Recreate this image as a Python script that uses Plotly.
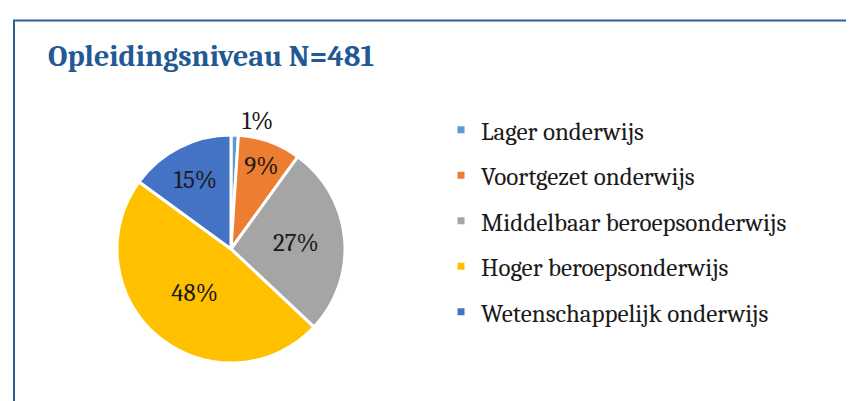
import plotly.graph_objects as go

# Data
categories = ["Lager onderwijs", "Voortgezet onderwijs", "Middelbaar beroepsonderwijs",
              "Hoger beroepsonderwijs", "Wetenschappelijk onderwijs"]
counts = [5, 43, 130, 231, 72]  # N = 481 (1%, 9%, 27%, 48%, 15%)
colors = ["#5B9BD5", "#ED7D31", "#A5A5A5", "#FFC000", "#4472C4"]
text_positions = ["outside", "inside", "inside", "inside", "inside"]
title_text = "Opleidingsniveau N=481"

W, H = 854, 401
SERIF = "Cambria, 'Liberation Serif', 'DejaVu Serif', serif"

fig = go.Figure()

fig.add_trace(go.Pie(
    labels=categories,
    values=counts,
    sort=False,
    direction="clockwise",
    rotation=0,
    marker=dict(colors=colors, line=dict(color="white", width=3)),
    texttemplate="%{percent:.0%}",
    textposition=text_positions,
    insidetextorientation="horizontal",
    textfont=dict(family=SERIF, size=25, color="#1a1a1a"),
    showlegend=False,
    domain=dict(x=[(223 - 114) / W, (223 + 114) / W], y=[1 - 355 / H, 1 - 127 / H]),
    hoverinfo="label+percent",
))

# legend entries (one per category) so that the spacing can be controlled
for i, (cat, col) in enumerate(zip(categories, colors)):
    fig.add_trace(go.Scatter(
        x=[None], y=[None], mode="markers", name=cat,
        marker=dict(symbol="square", size=7, color=col),
        legendgroup=f"g{i}", showlegend=True,
    ))

fig.update_layout(
    width=W, height=H,
    margin=dict(l=0, r=0, t=0, b=0),
    paper_bgcolor="white",
    plot_bgcolor="white",
    xaxis=dict(visible=False),
    yaxis=dict(visible=False),
    title=dict(
        text=f"<b>{title_text}</b>",
        x=40 / W, xanchor="left", xref="paper",
        y=1 - 47 / H, yanchor="middle", yref="paper",
        font=dict(family=SERIF, size=30, color="#1F5A94"),
    ),
    legend=dict(
        x=433 / W, xanchor="left",
        y=1 - 99 / H, yanchor="top",
        font=dict(family=SERIF, size=25, color="#1a1a1a"),
        tracegroupgap=10,
        itemsizing="trace",
        bgcolor="rgba(0,0,0,0)",
    ),
    shapes=[dict(
        type="rect", xref="paper", yref="paper",
        x0=6 / W, x1=1.05, y0=-0.05, y1=1 - 12.5 / H,
        line=dict(color="#2B5F98", width=2),
        fillcolor="rgba(0,0,0,0)",
        layer="below",
    )],
)

fig.write_html("out.html")
